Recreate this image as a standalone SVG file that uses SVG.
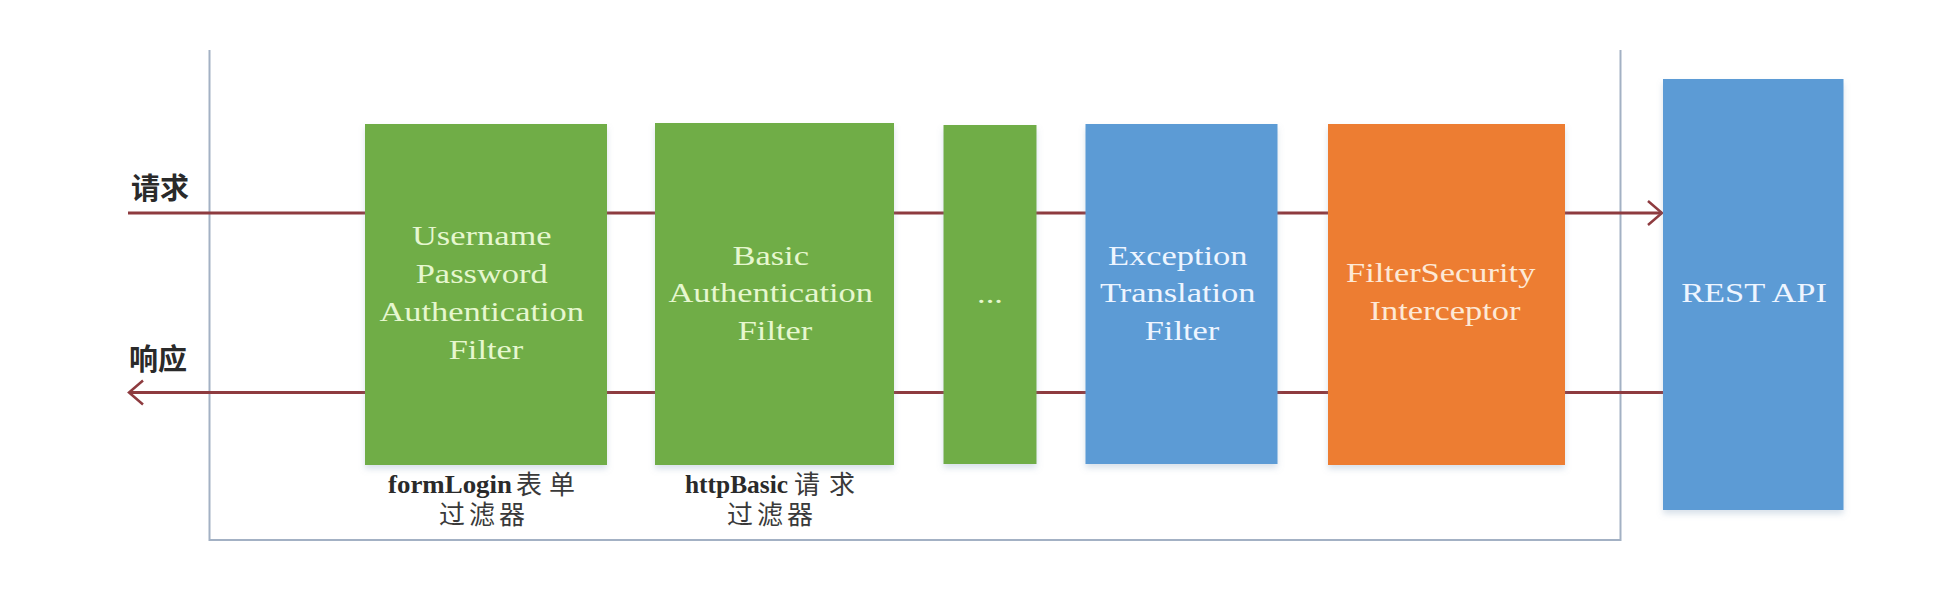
<svg xmlns="http://www.w3.org/2000/svg" width="1944" height="608" viewBox="0 0 1944 608">
  <style>
    .box-green { fill: #70ad47; }
    .box-blue { fill: #5b9bd5; }
    .box-orange { fill: #ed7d31; }
    .btxt { font-family: "Liberation Serif", "Times New Roman", serif; font-size: 28px; text-anchor: middle; }
    .tg { fill: #e6f7cf; }
    .tb { fill: #eef5ff; }
    .to { fill: #fde9d6; }
    .side { font-family: "Noto Sans CJK SC", sans-serif; font-size: 29px; font-weight: bold; fill: #2a2a2a; }
    .lbl { font-family: "Liberation Serif", serif; font-size: 25px; font-weight: bold; fill: #2a2a2a; }
    .cjk { font-family: "Noto Sans CJK SC", sans-serif; font-size: 26px; font-weight: normal; fill: #3a3a3a; }
    .frame { stroke: #a3b1c4; stroke-width: 2; fill: none; }
    .conn { stroke: #8e3b3f; stroke-width: 3; fill: none; }
  </style>
  <defs>
    <filter id="shadow" x="-10%" y="-10%" width="120%" height="125%">
      <feDropShadow dx="0" dy="4" stdDeviation="3" flood-color="#7f9bb8" flood-opacity="0.3"/>
    </filter>
    <marker id="arrow" markerUnits="userSpaceOnUse" markerWidth="22" markerHeight="30" refX="16" refY="13" orient="auto">
      <path d="M2,1 L16,13 L2,25" fill="none" stroke="#8e3b3f" stroke-width="2.5"/>
    </marker>
  </defs>
  <rect x="0" y="0" width="1944" height="608" fill="#ffffff"/>

  <g id="frame">
    <path class="frame" d="M209.5,50 L209.5,540 L1620.5,540 L1620.5,50"/>
  </g>

  <g id="connectors">
    <line class="conn" x1="128" y1="213" x2="1662" y2="213" marker-end="url(#arrow)"/>
    <line class="conn" x1="1663" y1="392.5" x2="129" y2="392.5" marker-end="url(#arrow)"/>
  </g>

  <g id="label-request">
    <text class="side" x="131" y="199">请求</text>
  </g>
  <g id="label-response">
    <text class="side" x="129" y="370">响应</text>
  </g>

  <g id="node-upaf">
    <rect class="box-green" x="365" y="124" width="242" height="341" filter="url(#shadow)"/>
    <text class="btxt tg" transform="translate(486,245) scale(1.23,1)">
      <tspan x="0" y="0">Username</tspan>
      <tspan x="0" y="38">Password</tspan>
      <tspan x="0" y="76">Authentication</tspan>
      <tspan x="0" y="114.5">Filter</tspan>
    </text>
    <text class="lbl" x="388" y="493" textLength="124" lengthAdjust="spacingAndGlyphs">formLogin</text>
    <text class="cjk" x="516 549" y="494">表单</text>
    <text class="cjk" x="439 469 499" y="524">过滤器</text>
  </g>

  <g id="node-baf">
    <rect class="box-green" x="655" y="123" width="239" height="342" filter="url(#shadow)"/>
    <text class="btxt tg" transform="translate(775,265) scale(1.23,1)">
      <tspan x="0" y="0">Basic</tspan>
      <tspan x="0" y="37">Authentication</tspan>
      <tspan x="0" y="75">Filter</tspan>
    </text>
    <text class="lbl" x="685" y="493" textLength="103" lengthAdjust="spacingAndGlyphs">httpBasic</text>
    <text class="cjk" x="794 829" y="494">请求</text>
    <text class="cjk" x="727 757 787" y="524">过滤器</text>
  </g>

  <g id="node-dots">
    <rect class="box-green" x="943.5" y="125" width="93" height="339" filter="url(#shadow)"/>
    <text class="btxt tg" transform="translate(990,303) scale(1.23,1)">...</text>
  </g>

  <g id="node-etf">
    <rect class="box-blue" x="1085.5" y="124" width="192" height="340" filter="url(#shadow)"/>
    <text class="btxt tb" transform="translate(1182,265) scale(1.23,1)">
      <tspan x="0" y="0">Exception</tspan>
      <tspan x="0" y="37">Translation</tspan>
      <tspan x="0" y="75">Filter</tspan>
    </text>
  </g>

  <g id="node-fsi">
    <rect class="box-orange" x="1328" y="124" width="237" height="341" filter="url(#shadow)"/>
    <text class="btxt to" transform="translate(1445,282) scale(1.23,1)">
      <tspan x="0" y="0">FilterSecurity</tspan>
      <tspan x="0" y="38">Interceptor</tspan>
    </text>
  </g>

  <g id="node-rest">
    <rect class="box-blue" x="1663" y="79" width="180.5" height="431" filter="url(#shadow)"/>
    <text class="btxt tb" transform="translate(1754,302) scale(1.23,1)">REST API</text>
  </g>
</svg>
